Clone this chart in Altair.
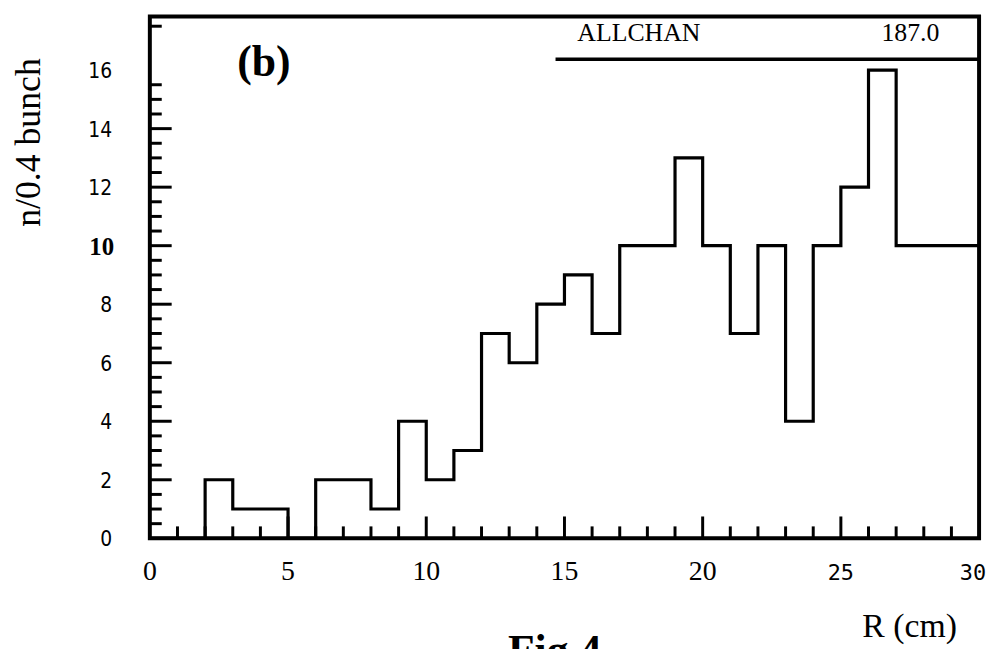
import altair as alt
import pandas as pd

# ---- data ----
bin_left = list(range(30))                      # R (cm), bin lower edges, width 1
counts = [0, 0, 2, 1, 1, 0, 2, 2, 1, 4,
          2, 3, 7, 6, 8, 9, 7, 10, 10, 13,
          10, 7, 10, 4, 10, 12, 16, 10, 10, 10]
x_max = 30
y_max = 17.83

x_label_values = [0, 5, 10, 15, 20, 25, 30]
y_label_values = [0, 2, 4, 6, 8, 10, 12, 14, 16]
x_minor_ticks = [v for v in range(1, 30) if v % 5 != 0]
x_major_ticks = [5, 10, 15, 20, 25]
y_minor_ticks = [i * 0.5 for i in range(1, 32) if i % 4 != 0] + [17.5]
y_major_ticks = [2, 4, 6, 8, 10, 12, 14]

panel_label = "(b)"
stat_name = "ALLCHAN"
stat_value = "187.0"
x_title = "R (cm)"
y_title = "n/0.4 bunch"
fig_label = "Fig.4"

# ---- chart ----
W, H = 836, 526
SERIF = "'Liberation Serif', 'Times New Roman', serif"
NARROW = "'Liberation Sans Narrow', 'DejaVu Sans Condensed', 'Roboto Condensed', sans-serif"
MONO = "'DejaVu Sans Mono', 'Liberation Mono', monospace"

hist_df = pd.DataFrame({"r": bin_left + [x_max], "n": counts + [counts[-1]]})

x_scale = alt.Scale(domain=[0, x_max], nice=False, zero=False)
y_scale = alt.Scale(domain=[0, y_max], nice=False, zero=False)

hist = alt.Chart(hist_df).mark_line(
    interpolate="step-after", color="black", strokeWidth=3.2, strokeJoin="miter"
).encode(
    x=alt.X("r:Q", scale=x_scale, axis=None),
    y=alt.Y("n:Q", scale=y_scale, axis=None),
)

def xticks(vals, length):
    return alt.Chart(pd.DataFrame({"r": vals})).mark_rule(color="black", strokeWidth=3).encode(
        x=alt.X("r:Q", scale=x_scale, axis=None),
        y=alt.value(H), y2=alt.value(H - length),
    )

def yticks(vals, length):
    return alt.Chart(pd.DataFrame({"n": vals})).mark_rule(color="black", strokeWidth=3).encode(
        y=alt.Y("n:Q", scale=y_scale, axis=None),
        x=alt.value(0), x2=alt.value(length),
    )

xl_df = pd.DataFrame({"r": x_label_values})
xl_df["t"] = xl_df["r"].astype(str)
yl_df = pd.DataFrame({"n": y_label_values})
yl_df["t"] = yl_df["n"].astype(str)

x_labels_serif = alt.Chart(xl_df).transform_filter("datum.r < 25").mark_text(
    font=SERIF, fontSize=28, color="black", align="center", baseline="middle"
).encode(x=alt.X("r:Q", scale=x_scale, axis=None), y=alt.value(H + 34), text="t:N")

x_labels_mono = alt.Chart(xl_df).transform_filter("datum.r == 25").mark_text(
    font=MONO, fontSize=22, color="black", align="center", baseline="middle"
).encode(x=alt.X("r:Q", scale=x_scale, axis=None), y=alt.value(H + 35), text="t:N")

x_labels_end = alt.Chart(xl_df).transform_filter("datum.r == 30").mark_text(
    font=MONO, fontSize=22, color="black", align="right", baseline="middle", dx=7
).encode(x=alt.X("r:Q", scale=x_scale, axis=None), y=alt.value(H + 35), text="t:N")

y_labels = alt.Chart(yl_df).transform_filter("datum.n != 10").mark_text(
    font=NARROW, fontSize=21, color="black", align="right", baseline="middle", dy=2
).encode(y=alt.Y("n:Q", scale=y_scale, axis=None), x=alt.value(-38), text="t:N")

y_label_bold = alt.Chart(yl_df).transform_filter("datum.n == 10").mark_text(
    font=SERIF, fontSize=25, fontWeight="bold", color="black", align="right", baseline="middle", dy=1
).encode(y=alt.Y("n:Q", scale=y_scale, axis=None), x=alt.value(-36), text="t:N")

def text(t, x, y, **kw):
    return alt.Chart(pd.DataFrame({"t": [t]})).mark_text(color="black", **kw).encode(
        x=alt.value(x), y=alt.value(y), text="t:N"
    )

stat_line = alt.Chart(pd.DataFrame({"a": [0]})).mark_rule(color="black", strokeWidth=3.5).encode(
    x=alt.value(409), x2=alt.value(W), y=alt.value(43)
)

layers = [
    hist,
    xticks(x_minor_ticks, 12),
    xticks(x_major_ticks, 22),
    yticks(y_minor_ticks, 12),
    yticks(y_major_ticks, 22),
    x_labels_serif, x_labels_mono, x_labels_end,
    y_labels, y_label_bold,
    stat_line,
    text(panel_label, 115, 60, font=SERIF, fontSize=44, fontWeight="bold", align="center", baseline="alphabetic"),
    text(stat_name, 431, 25, font=SERIF, fontSize=26, align="left", baseline="alphabetic"),
    text(stat_value, 796, 25, font=SERIF, fontSize=26, align="right", baseline="alphabetic"),
    text(x_title, 766, 626, font=SERIF, fontSize=34, align="center", baseline="alphabetic"),
    text(y_title, -111, 127, font=SERIF, fontSize=36, angle=270, align="center", baseline="alphabetic"),
    text(fig_label, 361, 654, font=SERIF, fontSize=44, fontWeight="bold", align="left", baseline="alphabetic"),
]

chart = alt.layer(*layers).properties(
    width=W, height=H,
    background="white",
    autosize=alt.AutoSizeParams(type="none"),
    padding={"left": 143, "top": 6, "right": 9, "bottom": 112},
).configure_view(
    stroke="black", strokeWidth=4
)

chart.save("out.html", embed_options={"renderer": "svg", "actions": False})
